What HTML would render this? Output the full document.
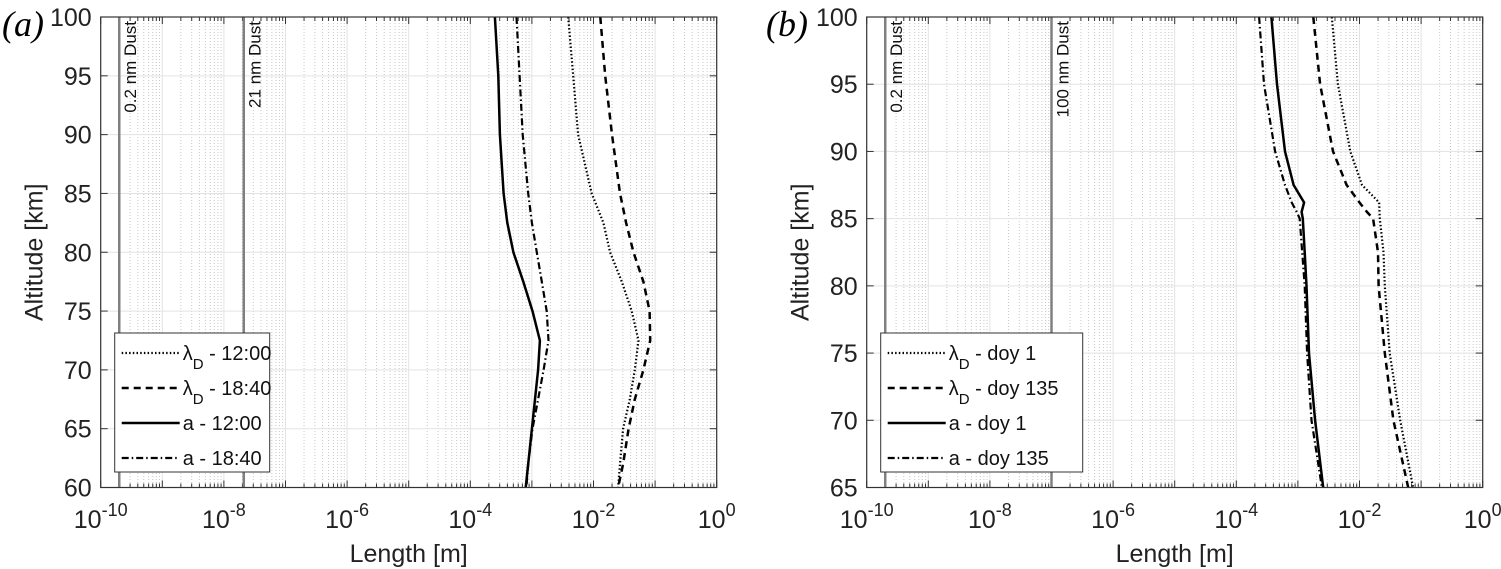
<!DOCTYPE html>
<html><head><meta charset="utf-8"><style>
body{margin:0;background:#fff}
svg{display:block;font-family:"Liberation Sans",sans-serif}
</style></head><body>
<svg id="c" width="1501" height="569" viewBox="0 0 1501 569"></svg>
<script>
const altA=[100,95,90,85,82.5,80,77.5,75,72.5,70,67.5,65,62,60];
const aSolidA=[-3.60,-3.545,-3.52,-3.46,-3.40,-3.30,-3.14,-2.99,-2.87,-2.90,-2.95,-3.00,-3.06,-3.10];
const aDashDotA=[-3.25,-3.20,-3.15,-3.06,-3.00,-2.92,-2.84,-2.76,-2.73,-2.81,-2.90,-2.99,-3.06,-3.09];
const lamDotA=[-2.41,-2.33,-2.25,-2.03,-1.84,-1.73,-1.54,-1.38,-1.27,-1.33,-1.41,-1.52,-1.57,-1.60];
const lamDashA=[-1.89,-1.81,-1.70,-1.57,-1.47,-1.35,-1.19,-1.09,-1.08,-1.19,-1.33,-1.43,-1.52,-1.60];
const altB=[100,95,90,87.5,86.2,85.5,85,82.5,80,75,70,65];
const aSolidB=[-3.43,-3.34,-3.21,-3.07,-2.90,-2.94,-2.92,-2.89,-2.86,-2.82,-2.72,-2.59];
const aDashDotB=[-3.63,-3.55,-3.37,-3.21,-3.10,-3.02,-2.97,-2.93,-2.89,-2.85,-2.78,-2.61];
const lamDotB=[-2.45,-2.35,-2.15,-1.96,-1.68,-1.675,-1.67,-1.61,-1.59,-1.51,-1.34,-1.13];
const lamDashB=[-2.75,-2.64,-2.43,-2.21,-2.00,-1.88,-1.78,-1.70,-1.69,-1.59,-1.45,-1.21];
const xTickExp=[-10,-8,-6,-4,-2,0];
const dustA=[[Math.log10(2e-10),"0.2 nm Dust"],[Math.log10(2.1e-8),"21 nm Dust"]];
const dustB=[[Math.log10(2e-10),"0.2 nm Dust"],[Math.log10(1e-7),"100 nm Dust"]];
const legA=["λ|D| - 12:00","λ|D| - 18:40","a - 12:00","a - 18:40"];
const legB=["λ|D| - doy 1","λ|D| - doy 135","a - doy 1","a - doy 135"];

const NS="http://www.w3.org/2000/svg";
const svg=document.getElementById('c');
function mk(t,a,p){const e=document.createElementNS(NS,t);for(const k in a)e.setAttribute(k,a[k]);(p||svg).appendChild(e);return e;}
const styles=[{d:"1.5 2.2",w:2.2},{d:"7 5",w:2.5},{d:"",w:2.5},{d:"7 3 1.5 3",w:2.2}];

function panel(L,R,T,B,ymin,ymax,series,alts,dust,leg,label,lx){
  const g=mk('g',{});
  
  
  const X=v=>L+(v+10)/10*(R-L), Y=v=>B-(v-ymin)/(ymax-ymin)*(B-T);
  for(let e=-10;e<0;e++)for(let m=2;m<10;m++){const x=X(e+Math.log10(m));
    mk('line',{x1:x,x2:x,y1:T,y2:B,stroke:'#c8c8c8','stroke-width':1,'stroke-dasharray':'1 2'},g);
    mk('line',{x1:x,x2:x,y1:B,y2:B-4,stroke:'#333','stroke-width':1},g);
    mk('line',{x1:x,x2:x,y1:T,y2:T+4,stroke:'#333','stroke-width':1},g);}
  for(let e=-10;e<=0;e++){const x=X(e);
    mk('line',{x1:x,x2:x,y1:T,y2:B,stroke:'#e3e3e3','stroke-width':1},g);
    mk('line',{x1:x,x2:x,y1:B,y2:B-7,stroke:'#333'},g);mk('line',{x1:x,x2:x,y1:T,y2:T+7,stroke:'#333'},g);}
  for(let v=ymin;v<=ymax;v+=5){const y=Y(v);
    mk('line',{x1:L,x2:R,y1:y,y2:y,stroke:'#e3e3e3'},g);
    mk('line',{x1:L,x2:L+7,y1:y,y2:y,stroke:'#333'},g);mk('line',{x1:R,x2:R-7,y1:y,y2:y,stroke:'#333'},g);
    const t=mk('text',{x:L-9,y:y+9,'font-size':25,'text-anchor':'end',fill:'#222'},g);t.textContent=v;
    }
  xTickExp.forEach(e=>{const t=mk('text',{x:X(e),y:528,'font-size':25,'text-anchor':'middle',fill:'#222'},g);
    
    t.appendChild(document.createTextNode('10'));const s=mk('tspan',{dy:-12,'font-size':18},t);s.textContent=String(e);});
  dust.forEach(([v,txt])=>{const x=X(v);
    const l=mk('line',{x1:x,x2:x,y1:T,y2:B,stroke:'#808080','stroke-width':2.5},g);
    
    const t=mk('text',{x:0,y:0,'font-size':17,fill:'#111','text-anchor':'end',transform:`translate(${x+17},${T+4}) rotate(-90)`},g);t.textContent=txt;
    });
  series.forEach((s,i)=>{const d=s.map((v,j)=>(j?'L':'M')+X(v).toFixed(1)+','+Y(alts[j]).toFixed(1)).join('');
    const p=mk('path',{d,fill:'none',stroke:'#000','stroke-width':styles[i].w,'stroke-dasharray':styles[i].d,'stroke-linejoin':'round'},g);
    });
  mk('rect',{x:L,y:T,width:R-L,height:B-T,fill:'none',stroke:'#333','stroke-width':1.2},g);
  const lw=leg===legA?155:202;
  const lg=mk('g',{},g);
  mk('rect',{x:L+14,y:333,width:lw,height:139,fill:'#fff',stroke:'#333','stroke-width':1},lg);
  leg.forEach((s,i)=>{const y=353+i*35;
    mk('line',{x1:L+21,x2:L+79,y1:y,y2:y,stroke:'#000','stroke-width':styles[i].w,'stroke-dasharray':styles[i].d},lg);
    const t=mk('text',{x:L+82,y:y+7,'font-size':20,fill:'#111'},lg);
    
    const parts=s.split('|');t.appendChild(document.createTextNode(parts[0]));
    if(parts.length>1){const sb=mk('tspan',{dy:9,'font-size':15},t);sb.textContent=parts[1];const r=mk('tspan',{dy:-9},t);r.textContent=parts[2];}});
  const at=mk('text',{x:0,y:0,'font-size':25,'text-anchor':'middle',fill:'#222',transform:`translate(${L-58},${(T+B)/2}) rotate(-90)`},g);
  at.textContent='Altitude [km]';
  const xt=mk('text',{x:(L+R)/2,y:562,'font-size':25,'text-anchor':'middle',fill:'#222'},g);
  xt.textContent='Length [m]';
  const pl=mk('text',{x:lx,y:36,'font-size':36,'font-family':'Liberation Serif,serif','font-style':'italic',fill:'#000'},g);
  pl.textContent='('+label+')';
}
panel(100.7,716.7,17,487.5,60,100,[lamDotA,lamDashA,aSolidA,aDashDotA],altA,dustA,legA,'a',2);
panel(866.7,1482.7,17,487.5,65,100,[lamDotB,lamDashB,aSolidB,aDashDotB],altB,dustB,legB,'b',766);
</script>
</body></html>
